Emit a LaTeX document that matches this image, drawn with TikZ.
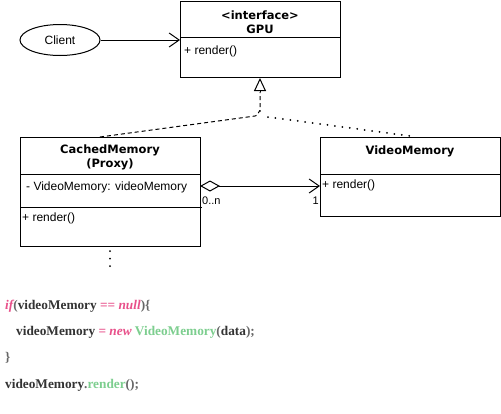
\documentclass[tikz,border=0pt]{standalone}
\usepackage{fontspec}
\setmainfont{Liberation Serif}
\setsansfont{Liberation Sans}
\newfontfamily\titlefont{DejaVu Sans}
\usetikzlibrary{arrows.meta,calc,shapes.geometric}
\definecolor{kw}{HTML}{E8508A}
\definecolor{gr}{HTML}{7DCE8F}
\definecolor{tx}{HTML}{333333}
\definecolor{pn}{HTML}{666666}
\begin{document}
\begin{tikzpicture}[x=1pt,y=-1pt,
  umlbox/.style={draw,line width=1pt,rectangle,anchor=north west,inner sep=0pt},
  lbl/.style={font=\sffamily\fontsize{12}{14}\selectfont,inner sep=0pt,anchor=west},
  ttl/.style={font=\titlefont\bfseries\fontsize{11.5}{14}\selectfont,inner sep=0pt,align=center},
  code/.style={font=\rmfamily\bfseries\fontsize{13.3}{15}\selectfont,inner sep=0pt,anchor=base west,text=tx},
  dotline/.style={line width=2pt,line cap=round,dash pattern=on 0pt off 7.5pt}
]
\useasboundingbox (0,0) rectangle (501,413);
% GPU
\node[umlbox,minimum width=160pt,minimum height=76pt] (gpu) at (180,1) {};
\draw[line width=1pt] (180,37) -- (340,37);
\node[ttl] (gput) at (260,22) {<interface>\\GPU};
\node[lbl] (gpum) at (184,51) {+ render()};
% Client
\node[draw,line width=1pt,ellipse,minimum width=80pt,minimum height=31pt,inner sep=0pt,font=\sffamily\fontsize{12}{14}\selectfont] (client) at (60,40) {Client};
\draw[line width=1pt,-{Straight Barb[length=10pt,width=14pt,line width=1pt]}] (client.east) -- (client.east -| gpu.west);
% CachedMemory
\node[umlbox,minimum width=180pt,minimum height=109pt] (cached) at (20,137) {};
\draw[line width=1pt] (20,174) -- (200,174);
\draw[line width=1pt] (20,207) -- (202,207);
\node[ttl] (cachedt) at (110,157) {CachedMemory\\(Proxy)};
\node[lbl] (cacheda) at (26,187) {- VideoMemory: videoMemory};
\node[lbl] (cachedm) at (22,218) {+ render()};
% VideoMemory
\node[umlbox,minimum width=180pt,minimum height=79pt] (video) at (320,137) {};
\draw[line width=1pt] (320,174) -- (500,174);
\node[ttl] (videot) at (410,151) {VideoMemory};
\node[lbl] (videom) at (322,185) {+ render()};
% aggregation
\coordinate (aggs) at (200,186);
\coordinate (agge) at (320,186);
\draw[line width=1pt,{Diamond[open,length=20pt,width=11pt,line width=1pt]}-{Straight Barb[length=10pt,width=14pt,line width=1pt]}] (aggs) -- (agge);
\node[lbl,font=\sffamily\fontsize{11}{13}\selectfont] (mult1) at (202,201) {0..n};
\node[lbl,anchor=east,font=\sffamily\fontsize{11}{13}\selectfont] (mult2) at (319,201) {1};
% realization
\coordinate (r1) at (100,137);
\coordinate (r2) at (255,116);
\coordinate (r3) at (260,111);
\coordinate (r4) at (260,78);
\draw[line width=1pt,dash pattern=on 4pt off 3pt] (r1) -- (r2) to[out=-20,in=90] (r3) -- (260,92);
\draw[line width=1pt,{Triangle[open,length=13pt,width=12pt,line width=1pt]}-] (r4) -- (260,92);
\coordinate (d1) at (268,117);
\coordinate (d2) at (410,136);
\draw[dotline] (d1) -- (d2);
\coordinate (v1) at (110,251);
\coordinate (v2) at (110,273);
\draw[dotline] (v1) -- (v2);
% code
\node[code] (c1) at (5,309) {\textcolor{kw}{\itshape if}\textcolor{pn}{(}videoMemory \textcolor{kw}{==} \textcolor{kw}{\itshape null}\textcolor{pn}{)\{}};
\node[code] (c2) at (16,335) {videoMemory \textcolor{kw}{=} \textcolor{kw}{\itshape new} \textcolor{gr}{VideoMemory}\textcolor{pn}{(}data\textcolor{pn}{);}};
\node[code] (c3) at (5,361) {\textcolor{pn}{\}}};
\node[code] (c4) at (5,388) {videoMemory\textcolor{pn}{.}\textcolor{gr}{render}\textcolor{pn}{();}};
\end{tikzpicture}
\end{document}
